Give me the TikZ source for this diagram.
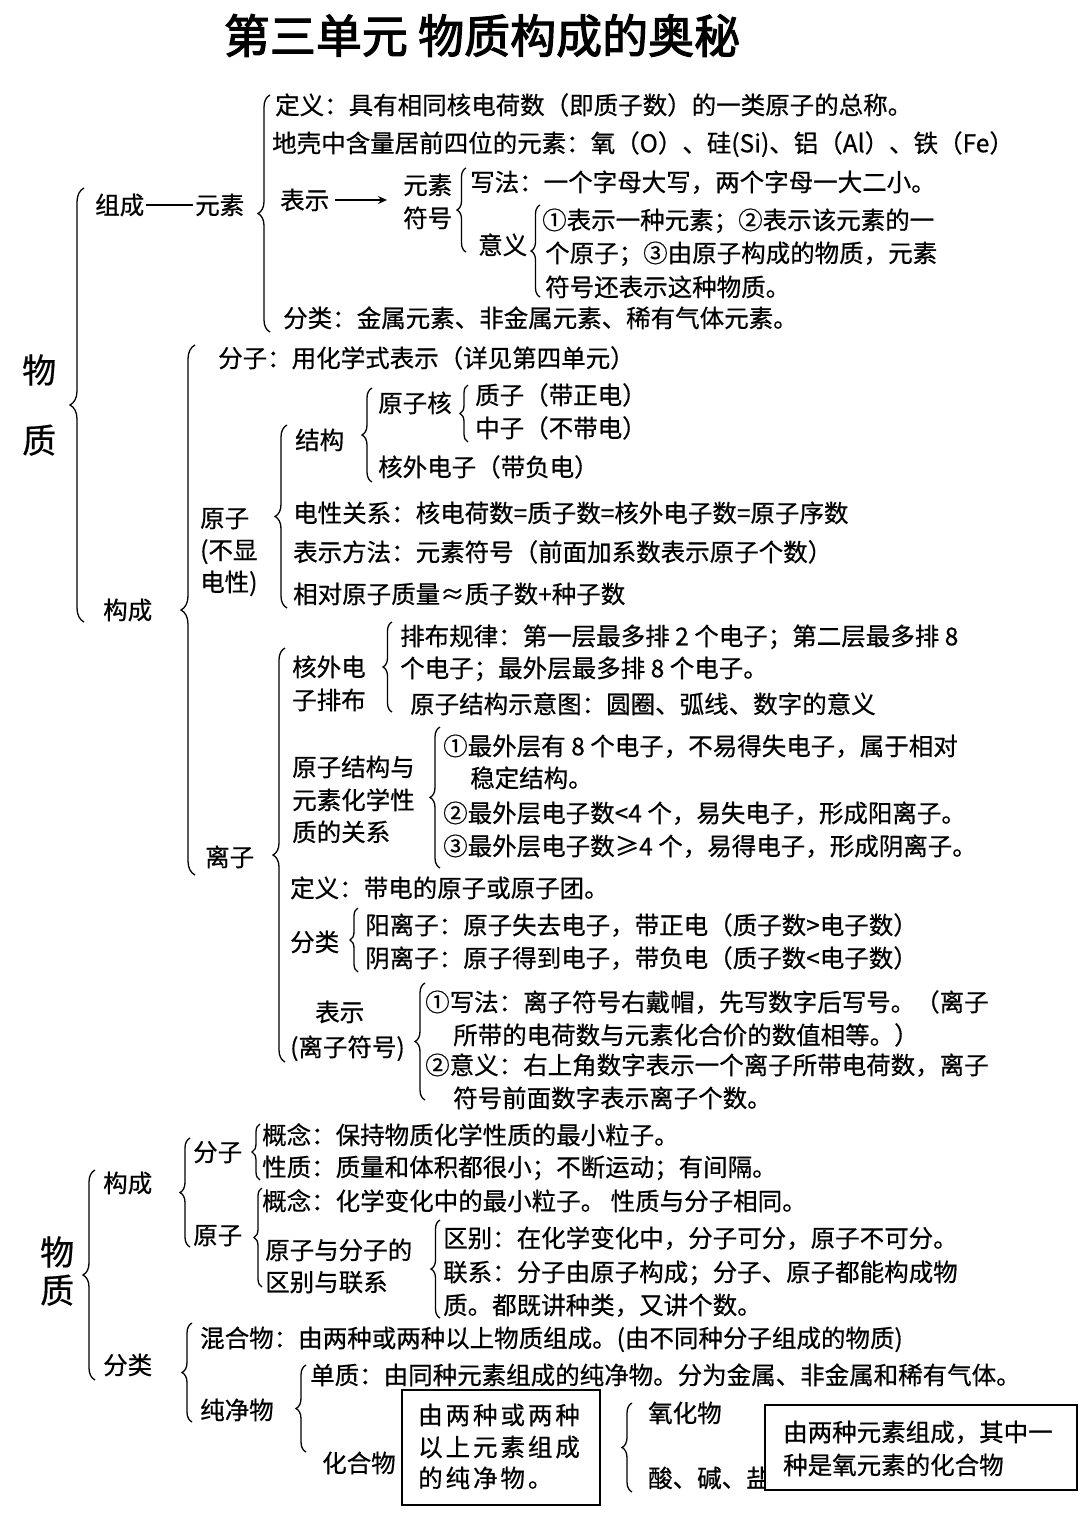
\documentclass[tikz,border=0pt]{standalone}
\usepackage{fontspec}
\setmainfont{Noto Sans CJK SC}[FakeBold=0.6]
\newfontfamily\titlefont{Noto Sans CJK SC}[FakeBold=2.5]
\newfontfamily\spacedfont{Noto Sans CJK SC}[FakeBold=0.6,LetterSpace=12]
\usetikzlibrary{decorations.pathreplacing,arrows.meta}
\newcommand\fs{\fontsize{24.5}{28}\selectfont}
\newcommand\fbig{\fontsize{34}{38}\selectfont}
\newcommand\ftitle{\titlefont\fontsize{46}{50}\selectfont}
\newcommand\mybrace[5]{%
  \coordinate (#1t) at (#2,#3);
  \coordinate (#1b) at (#2,#4);
  \draw[brc=#5] (#1b) -- (#1t);}
\tikzset{
  tx/.style={anchor=west, inner sep=0pt, text height=21.5pt, text depth=3pt, font=\fs},
  sptx/.style={anchor=west, inner sep=0pt, text height=21.5pt, text depth=3pt, font=\spacedfont\fs},
  bigtx/.style={anchor=west, inner sep=0pt, text height=30pt, text depth=4pt, font=\fbig},
  brc/.style={decorate, decoration={brace, amplitude=#1}, line width=1.3pt},
  boxst/.style={draw, line width=1.3pt, fill=white}
}
\begin{document}
\begin{tikzpicture}[x=1pt,y=-1pt]
\fill[white] (0,0) rectangle (1080,1526);
\useasboundingbox (0,0) rectangle (1080,1526);

% title
\node[inner sep=0pt, font=\ftitle, text height=40pt, text depth=6pt] (title) at (482,36) {第三单元\ 物质构成的奥秘};

% ===== Section 1 =====
\node[bigtx] (wu1) at (22,370) {物};
\node[bigtx] (zhi1) at (22,440) {质};
\mybrace{bA}{84}{188}{622}{14pt}

\node[tx] (zc) at (95,205) {组成};
\node[tx] (ys) at (195,205) {元素};
\draw[line width=1.2pt] ([xshift=2pt]zc.east) -- ([xshift=-2pt]ys.west);
\mybrace{bB}{270}{95}{332}{12pt}

\node[tx] (def1) at (275,105) {定义：具有相同核电荷数（即质子数）的一类原子的总称。};
\node[tx] (dk) at (272,143) {地壳中含量居前四位的元素：氧（O）、硅(Si)、铝（Al）、铁（Fe）};
\node[tx] (bs) at (280,200) {表示};
\node[tx] (fh1) at (403,185) {元素};
\node[tx] (fh2) at (403,218) {符号};
\draw[line width=1.2pt,-{Stealth[length=9pt,width=8pt]}] ([xshift=6pt]bs.east) -- ([xshift=-16pt]bs.east -| fh1.west);
\mybrace{bC}{466}{168}{252}{9pt}
\node[tx] (xf) at (470,182) {写法：一个字母大写，两个字母一大二小。};
\node[tx] (yy) at (478,245) {意义};
\mybrace{bD}{540}{205}{297}{9pt}
\node[tx] (yy1) at (542,220) {①表示一种元素；②表示该元素的一};
\node[tx] (yy2) at (545,253) {个原子；③由原子构成的物质，元素};
\node[tx] (yy3) at (545,287) {符号还表示这种物质。};
\node[tx] (fl) at (283,318) {分类：金属元素、非金属元素、稀有气体元素。};

\node[tx] (gc) at (103,610) {构成};
\mybrace{bE}{195}{345}{875}{14pt}
\node[tx] (fz) at (218,358) {分子：用化学式表示（详见第四单元）};

\node[tx] (yza) at (200,518) {原子};
\node[tx] (yzb) at (200,550) {(不显};
\node[tx] (yzc) at (200,582) {电性)};
\mybrace{bF}{287}{425}{608}{12pt}
\node[tx] (jg) at (295,440) {结构};
\mybrace{bG}{372}{388}{482}{10pt}
\node[tx] (yzh) at (378,403) {原子核};
\mybrace{bH}{468}{385}{442}{8pt}
\node[tx] (zz) at (475,395) {质子（带正电）};
\node[tx] (zhz) at (475,428) {中子（不带电）};
\node[tx] (hwdz) at (378,467) {核外电子（带负电）};
\node[tx] (dx) at (293,513) {电性关系：核电荷数=质子数=核外电子数=原子序数};
\node[tx] (bsff) at (293,552) {表示方法：元素符号（前面加系数表示原子个数）};
\node[tx] (xd) at (293,594) {相对原子质量≈质子数+种子数};

\node[tx] (lz) at (205,857) {离子};
\mybrace{bI}{285}{648}{1062}{12pt}
\node[tx] (hw1) at (292,667) {核外电};
\node[tx] (hw2) at (292,700) {子排布};
\mybrace{bJ}{392}{622}{712}{9pt}
\node[tx] (pb1) at (400,636) {排布规律：第一层最多排 2 个电子；第二层最多排 8};
\node[tx] (pb2) at (400,668) {个电子；最外层最多排 8 个电子。};
\node[tx] (sy) at (410,704) {原子结构示意图：圆圈、弧线、数字的意义};
\node[tx] (gx1) at (292,767) {原子结构与};
\node[tx] (gx2) at (292,800) {元素化学性};
\node[tx] (gx3) at (292,832) {质的关系};
\mybrace{bK}{440}{727}{868}{10pt}
\node[tx] (r1) at (443,746) {①最外层有 8 个电子，不易得失电子，属于相对};
\node[tx] (r1b) at (470,778) {稳定结构。};
\node[tx] (r2) at (443,813) {②最外层电子数<4 个，易失电子，形成阳离子。};
\node[tx] (r3) at (443,846) {③最外层电子数≥4 个，易得电子，形成阴离子。};
\node[tx] (lzdy) at (290,888) {定义：带电的原子或原子团。};
\node[tx] (lzfl) at (290,942) {分类};
\mybrace{bL}{358}{908}{972}{8pt}
\node[tx] (yang) at (365,925) {阳离子：原子失去电子，带正电（质子数>电子数）};
\node[tx] (yin) at (365,958) {阴离子：原子得到电子，带负电（质子数<电子数）};
\node[tx] (lbs1) at (315,1012) {表示};
\node[tx] (lbs2) at (290,1047) {(离子符号)};
\mybrace{bM}{425}{983}{1100}{10pt}
\node[tx] (w1) at (425,1002) {①写法：离子符号右戴帽，先写数字后写号。（离子};
\node[tx] (w1b) at (453,1035) {所带的电荷数与元素化合价的数值相等。）};
\node[tx] (w2) at (425,1065) {②意义：右上角数字表示一个离子所带电荷数，离子};
\node[tx] (w2b) at (453,1098) {符号前面数字表示离子个数。};

% ===== Section 2 =====
\node[bigtx] (wu2) at (40,1252) {物};
\node[bigtx] (zhi2) at (40,1290) {质};
\mybrace{bN}{95}{1170}{1380}{12pt}
\node[tx] (gc2) at (103,1183) {构成};
\mybrace{bO}{190}{1138}{1247}{10pt}
\node[tx] (fz2) at (193,1152) {分子};
\mybrace{bP}{260}{1124}{1180}{8pt}
\node[tx] (gn1) at (262,1135) {概念：保持物质化学性质的最小粒子。};
\node[tx] (xz1) at (262,1167) {性质：质量和体积都很小；不断运动；有间隔。};
\node[tx] (yz2) at (193,1235) {原子};
\mybrace{bQ}{262}{1188}{1287}{8pt}
\node[tx] (gn2) at (262,1201) {概念：化学变化中的最小粒子。 性质与分子相同。};
\node[tx] (qb1) at (265,1250) {原子与分子的};
\node[tx] (qb2) at (265,1282) {区别与联系};
\mybrace{bR}{440}{1220}{1318}{9pt}
\node[tx] (qb) at (443,1238) {区别：在化学变化中，分子可分，原子不可分。};
\node[tx] (lx) at (443,1272) {联系：分子由原子构成；分子、原子都能构成物};
\node[tx] (lx2) at (443,1305) {质。都既讲种类，又讲个数。};

\node[tx] (fl2) at (103,1365) {分类};
\mybrace{bS}{192}{1323}{1422}{10pt}
\node[tx] (hhw) at (200,1338) {混合物：由两种或两种以上物质组成。(由不同种分子组成的物质)};
\node[tx] (cjw) at (200,1410) {纯净物};
\mybrace{bT}{306}{1365}{1452}{10pt}
\node[tx] (dz) at (310,1375) {单质：由同种元素组成的纯净物。分为金属、非金属和稀有气体。};
\node[tx] (hhw2) at (322,1463) {化合物};
\draw[boxst] (402,1390) rectangle (600,1505);
\node[sptx] (bx1) at (418,1415) {由两种或两种};
\node[sptx] (bx2) at (418,1447) {以上元素组成};
\node[sptx] (bx3) at (418,1478) {的纯净物。};
\mybrace{bU}{632}{1403}{1492}{10pt}
\node[tx] (yhw) at (648,1413) {氧化物};
\node[tx] (sjy) at (648,1478) {酸、碱、盐};
\draw[boxst] (765,1405) rectangle (1077,1490);
\node[tx] (bx4) at (783,1432) {由两种元素组成，其中一};
\node[tx] (bx5) at (783,1465) {种是氧元素的化合物};
\end{tikzpicture}
\end{document}
